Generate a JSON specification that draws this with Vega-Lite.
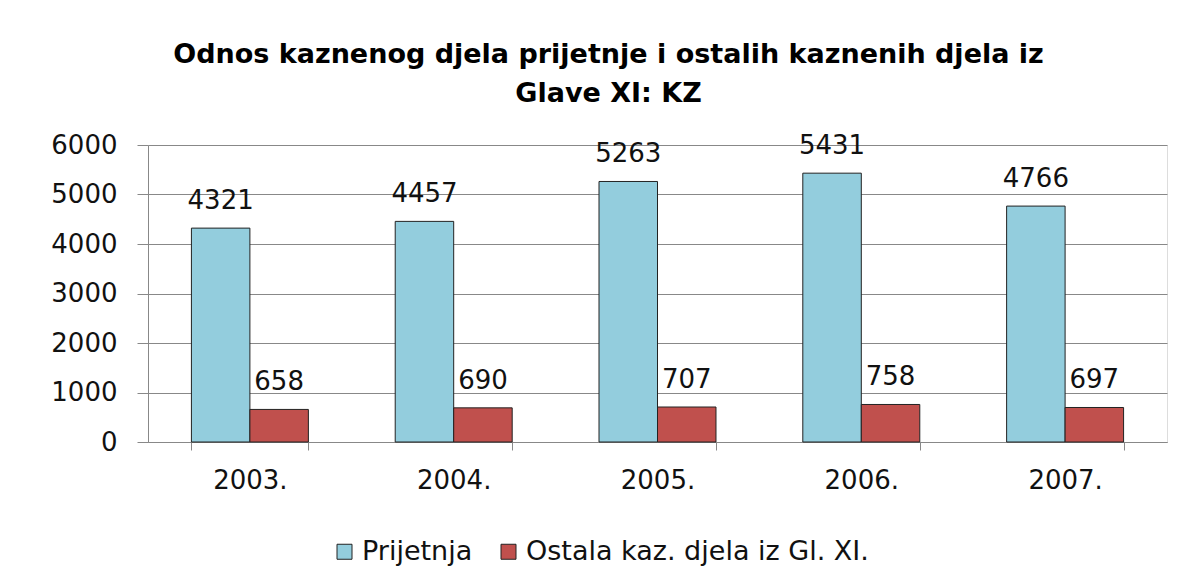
{
  "$schema": "https://vega.github.io/schema/vega-lite/v6.json",
  "width": 1019,
  "height": 297,
  "autosize": {"type": "none"},
  "padding": {"left": 148, "top": 145, "right": 27, "bottom": 142},
  "background": "white",
  "title": {
    "text": ["Odnos kaznenog djela prijetnje i ostalih kaznenih djela iz", "Glave XI: KZ"],
    "font": "DejaVu Sans",
    "fontWeight": "bold",
    "fontSize": 27,
    "lineHeight": 39,
    "color": "#000",
    "anchor": "middle",
    "dx": -49,
    "offset": 24
  },
  "data": {
    "values": [
      {"year": "2003.", "series": "Prijetnja", "value": 4321},
      {"year": "2003.", "series": "Ostala kaz. djela iz Gl. XI.", "value": 658},
      {"year": "2004.", "series": "Prijetnja", "value": 4457},
      {"year": "2004.", "series": "Ostala kaz. djela iz Gl. XI.", "value": 690},
      {"year": "2005.", "series": "Prijetnja", "value": 5263},
      {"year": "2005.", "series": "Ostala kaz. djela iz Gl. XI.", "value": 707},
      {"year": "2006.", "series": "Prijetnja", "value": 5431},
      {"year": "2006.", "series": "Ostala kaz. djela iz Gl. XI.", "value": 758},
      {"year": "2007.", "series": "Prijetnja", "value": 4766},
      {"year": "2007.", "series": "Ostala kaz. djela iz Gl. XI.", "value": 697}
    ]
  },
  "encoding": {
    "x": {
      "field": "year",
      "type": "nominal",
      "scale": {"paddingInner": 0.426, "paddingOuter": 0.213},
      "axis": {
        "title": null,
        "labelAngle": 0,
        "tickBand": "extent",
        "tickSize": 8,
        "tickColor": "#888",
        "domainColor": "#888",
        "labelFont": "DejaVu Sans",
        "labelFontSize": 26,
        "labelColor": "#111",
        "labelPadding": 17,
        "grid": false
      }
    },
    "xOffset": {
      "field": "series",
      "sort": ["Prijetnja", "Ostala kaz. djela iz Gl. XI."],
      "scale": {"paddingInner": 0, "paddingOuter": 0}
    },
    "y": {
      "field": "value",
      "type": "quantitative",
      "scale": {"domain": [0, 6000]},
      "axis": {
        "title": null,
        "values": [0, 1000, 2000, 3000, 4000, 5000, 6000],
        "format": "d",
        "grid": true,
        "gridColor": "#888",
        "tickColor": "#888",
        "domainColor": "#888",
        "tickSize": 11,
        "labelPadding": 20,
        "labelFont": "DejaVu Sans",
        "labelFontSize": 26,
        "labelColor": "#111"
      }
    }
  },
  "layer": [
    {
      "mark": {"type": "bar", "stroke": "#222", "strokeWidth": 1},
      "encoding": {
        "color": {
          "field": "series",
          "type": "nominal",
          "scale": {
            "domain": ["Prijetnja", "Ostala kaz. djela iz Gl. XI."],
            "range": ["#93CDDD", "#C0504D"]
          },
          "legend": {
            "title": null,
            "orient": "none",
            "legendX": 183,
            "legendY": 393,
            "direction": "horizontal",
            "symbolType": "square",
            "symbolSize": 225,
            "symbolStrokeColor": "#222",
            "symbolStrokeWidth": 1,
            "columnPadding": 22,
            "labelOffset": 4,
            "labelFont": "DejaVu Sans",
            "labelFontSize": 27,
            "labelColor": "#111",
            "labelLimit": 600
          }
        }
      }
    },
    {
      "mark": {
        "type": "text",
        "baseline": "alphabetic",
        "dy": -19,
        "font": "DejaVu Sans",
        "fontSize": 26,
        "color": "#111"
      },
      "encoding": {
        "text": {"field": "value", "type": "quantitative", "format": "d"}
      }
    }
  ]
}
